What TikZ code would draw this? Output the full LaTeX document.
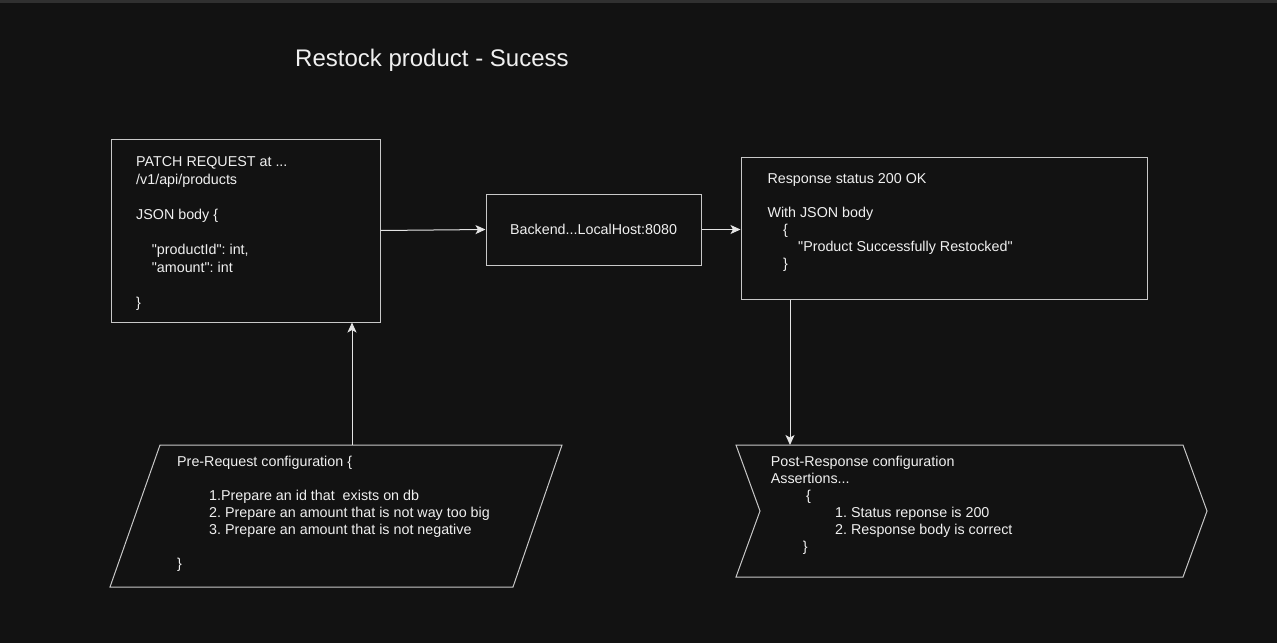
\documentclass[tikz,border=0pt]{standalone}
\usepackage{fontspec}
\setmainfont{Liberation Sans}
\newfontfamily\plainfont{Liberation Sans}
\usetikzlibrary{arrows.meta}
\frenchspacing
\definecolor{bgc}{RGB}{18,18,18}
\definecolor{topc}{RGB}{48,48,48}
\definecolor{linec}{RGB}{200,200,200}
\definecolor{arrc}{RGB}{228,228,228}
\definecolor{txtc}{RGB}{240,240,240}
\begin{document}
\frenchspacing
\begin{tikzpicture}[x=1pt,y=-1pt,
  box/.style={draw=linec, line width=1pt, fill=bgc, inner sep=0pt},
  shapeline/.style={draw=linec, line width=1pt, fill=bgc},
  arr/.style={draw=arrc, line width=1pt, -{Stealth[length=10pt,width=9pt,inset=2.5pt]}},
  txt/.style={text=txtc, inner sep=0pt, anchor=base west, font=\plainfont\frenchspacing\fontsize{14.3}{17}\selectfont},
]
\fill[bgc] (0,0) rectangle (1277,643);
\fill[topc] (0,0) rectangle (1277,2.5);
\useasboundingbox (0,0) rectangle (1277,643);

% title
\node[txt, font=\plainfont\fontsize{24}{28}\selectfont] (title) at (295,66.7) {Restock product - Sucess};

% boxes
\node[box, minimum width=269pt, minimum height=183pt] (req) at (245.5,230.5) {};
\node[box, minimum width=215pt, minimum height=71pt, text=txtc, font=\plainfont\fontsize{14.3}{17}\selectfont] (back) at (593.5,229.5) {Backend...LocalHost:8080};
\node[box, minimum width=406pt, minimum height=142pt] (resp) at (944,228) {};

% pre-request parallelogram
\draw[shapeline] (160,445) -- (562,445) -- (513,587) -- (110,587) -- cycle;
\coordinate (pretop) at (352,445);

% post-response step
\draw[shapeline] (736,445) -- (1183,445) -- (1207,511) -- (1183,577) -- (736,577) -- (760,511) -- cycle;
\coordinate (posttop) at (790,445);

% texts
\node[txt, font=\plainfont\frenchspacing\fontsize{14.3}{17.6}\selectfont] (reqtext) at (136,166.7) {\begin{tabular}[t]{@{}l@{}}PATCH REQUEST at ...\\ /v1/api/products\\ \\ JSON body \{\\ \\ \hspace{15.7pt}"productId": int,\\ \hspace{15.7pt}"amount": int\\ \\ \}\end{tabular}};

\node[txt] (resptext) at (767.3,183) {\begin{tabular}[t]{@{}l@{}}Response status 200 OK\\ \\ With JSON body\\ \hspace{15.7pt}\{\\ \hspace{30.7pt}"Product Successfully Restocked"\\ \hspace{15.7pt}\}\end{tabular}};

\node[txt] (pretext) at (177,466.7) {\begin{tabular}[t]{@{}l@{}}Pre-Request configuration \{\\ \\ \hspace{32pt}1.Prepare an id that\ \ exists on db\\ \hspace{32pt}2. Prepare an amount that is not way too big\\ \hspace{32pt}3. Prepare an amount that is not negative\\ \\ \}\end{tabular}};

\node[txt] (posttext) at (770.7,466.7) {\begin{tabular}[t]{@{}l@{}}Post-Response configuration\\ Assertions...\\ \hspace{35.3pt}\{\\ \hspace{64.3pt}1. Status reponse is 200\\ \hspace{64.3pt}2. Response body is correct\\ \hspace{32pt}\}\end{tabular}};

% connectors
\draw[arr] (req.east) -- (back.west);
\draw[arr] (back.east) -- (back.east -| resp.west);
\draw[arr] (pretop) -- (pretop |- req.south);
\draw[arr] (resp.south -| posttop) -- (posttop);
\end{tikzpicture}
\end{document}
